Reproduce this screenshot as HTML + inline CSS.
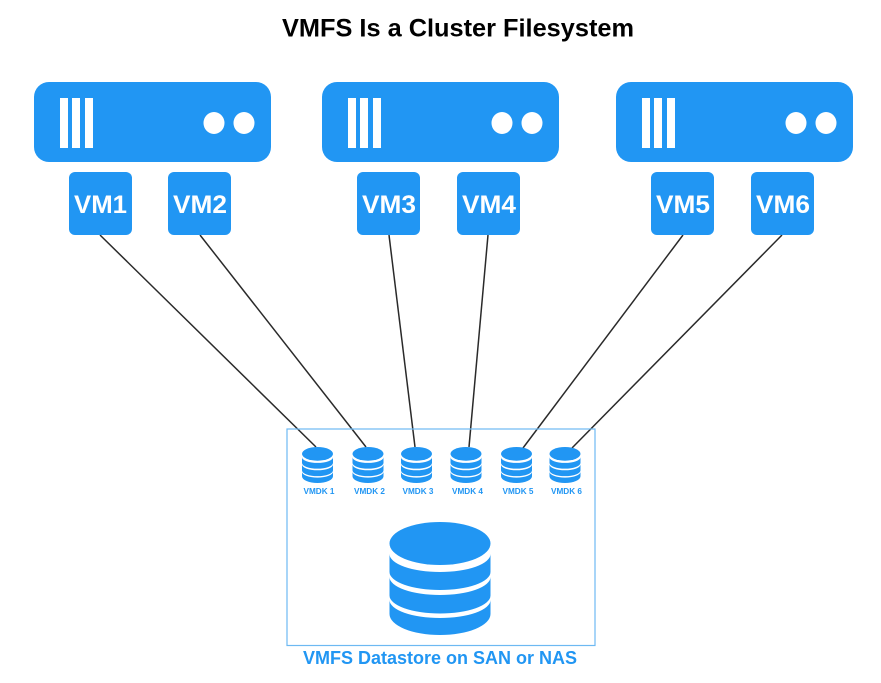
<!DOCTYPE html>
<html>
<head>
<meta charset="utf-8">
<style>
html,body{margin:0;padding:0;background:#fff;width:881px;height:683px;overflow:hidden}
svg{display:block}
text{font-family:"Liberation Sans",sans-serif;font-weight:bold}
</style>
</head>
<body>
<svg width="881" height="683" viewBox="0 0 881 683" xmlns="http://www.w3.org/2000/svg">
<defs>
  <symbol id="cyl" viewBox="0 0 100 113" preserveAspectRatio="none" overflow="visible">
    <g fill="#2196f3">
      <ellipse cx="50" cy="21.5" rx="50" ry="21.5"/>
      <path d="M0 32 A50 18 0 0 0 100 32 V50 A50 18 0 0 1 0 50 Z"/>
      <path d="M0 55 A50 18 0 0 0 100 55 V73.500 A50 18 0 0 1 0 73.500 Z"/>
      <path d="M0 78 A50 18 0 0 0 100 78 V92 A50 21 0 0 1 0 92 Z"/>
    </g>
  </symbol>
  <g id="srv">
    <rect x="0" y="0" width="237" height="80" rx="15" fill="#2196f3"/>
    <rect x="26" y="16" width="8" height="50" fill="#fff"/>
    <rect x="38" y="16" width="8" height="50" fill="#fff"/>
    <rect x="51" y="16" width="8" height="50" fill="#fff"/>
    <ellipse cx="180" cy="41" rx="10.5" ry="11" fill="#fff"/>
    <ellipse cx="210" cy="41" rx="10.5" ry="11" fill="#fff"/>
  </g>
</defs>

<text x="282" y="36.5" font-size="25" fill="#000" textLength="352" lengthAdjust="spacingAndGlyphs">VMFS Is a Cluster Filesystem</text>

<use href="#srv" x="34" y="82"/>
<use href="#srv" x="322" y="82"/>
<use href="#srv" x="616" y="82"/>

<g stroke="#2a2a2a" stroke-width="1.5" fill="none">
  <line x1="100" y1="235" x2="316" y2="447"/>
  <line x1="200" y1="235" x2="366" y2="447"/>
  <line x1="389" y1="235" x2="415" y2="447"/>
  <line x1="488" y1="235" x2="469" y2="447"/>
  <line x1="683" y1="235" x2="523" y2="448"/>
  <line x1="782" y1="235" x2="572" y2="448"/>
</g>

<g fill="#2196f3">
  <rect x="69" y="172" width="63" height="63" rx="6"/>
  <rect x="168" y="172" width="63" height="63" rx="6"/>
  <rect x="357" y="172" width="63" height="63" rx="6"/>
  <rect x="457" y="172" width="63" height="63" rx="6"/>
  <rect x="651" y="172" width="63" height="63" rx="6"/>
  <rect x="751" y="172" width="63" height="63" rx="6"/>
</g>
<g fill="#fff" font-size="25">
  <text x="74" y="213" textLength="53" lengthAdjust="spacingAndGlyphs">VM1</text>
  <text x="173" y="213" textLength="54" lengthAdjust="spacingAndGlyphs">VM2</text>
  <text x="362" y="213" textLength="54" lengthAdjust="spacingAndGlyphs">VM3</text>
  <text x="462" y="213" textLength="54" lengthAdjust="spacingAndGlyphs">VM4</text>
  <text x="656" y="213" textLength="54" lengthAdjust="spacingAndGlyphs">VM5</text>
  <text x="756" y="213" textLength="54" lengthAdjust="spacingAndGlyphs">VM6</text>
</g>

<rect x="287" y="429" width="308" height="216.5" fill="none" stroke="#6db9f2" stroke-width="1.2"/>

<use href="#cyl" x="302" y="447" width="31" height="36"/>
<use href="#cyl" x="352.500" y="447" width="31" height="36"/>
<use href="#cyl" x="401" y="447" width="31" height="36"/>
<use href="#cyl" x="450.500" y="447" width="31" height="36"/>
<use href="#cyl" x="501" y="447" width="31" height="36"/>
<use href="#cyl" x="549.500" y="447" width="31" height="36"/>

<g fill="#2196f3" font-size="8.500">
  <text x="303.500" y="494" textLength="31" lengthAdjust="spacingAndGlyphs">VMDK 1</text>
  <text x="354" y="494" textLength="31" lengthAdjust="spacingAndGlyphs">VMDK 2</text>
  <text x="402.500" y="494" textLength="31" lengthAdjust="spacingAndGlyphs">VMDK 3</text>
  <text x="452" y="494" textLength="31" lengthAdjust="spacingAndGlyphs">VMDK 4</text>
  <text x="502.500" y="494" textLength="31" lengthAdjust="spacingAndGlyphs">VMDK 5</text>
  <text x="551" y="494" textLength="31" lengthAdjust="spacingAndGlyphs">VMDK 6</text>
</g>

<use href="#cyl" x="389.500" y="522" width="101" height="113"/>

<text x="303" y="664" font-size="18" fill="#2196f3" textLength="274" lengthAdjust="spacingAndGlyphs">VMFS Datastore on SAN or NAS</text>
</svg>
</body>
</html>
